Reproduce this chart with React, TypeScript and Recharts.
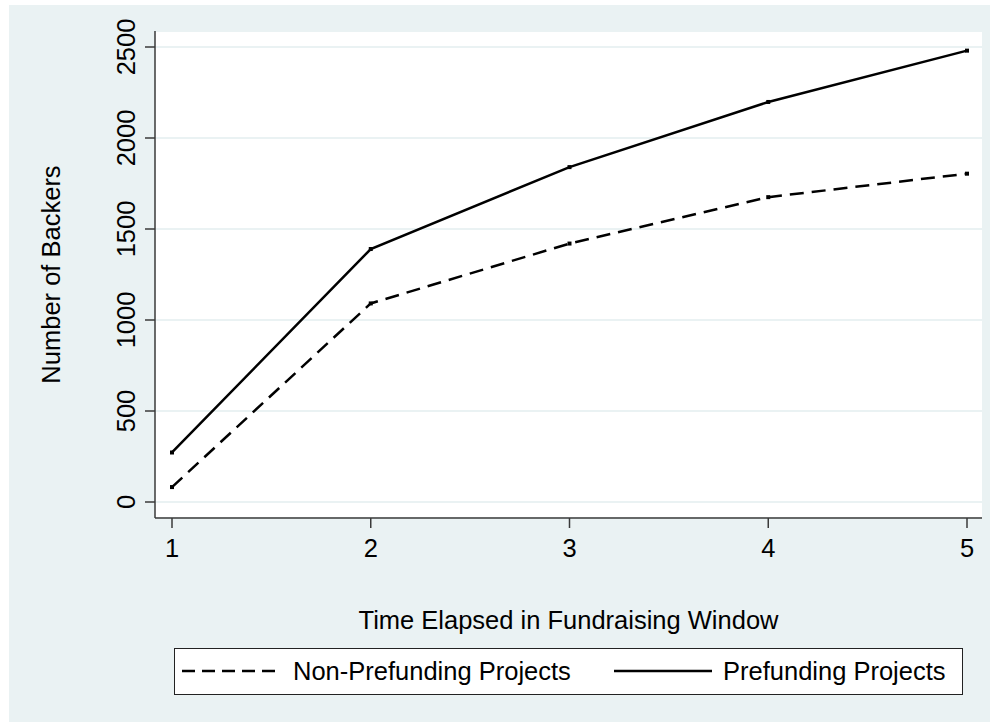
import React from 'react'
import {
  LineChart,
  Line,
  XAxis,
  YAxis,
  CartesianGrid,
  Label,
} from 'recharts'

// values
const periods = [1, 2, 3, 4, 5]
const prefunding = [272, 1390, 1840, 2198, 2480]
const nonPrefunding = [82, 1091, 1420, 1675, 1804]
const yTicks = [0, 500, 1000, 1500, 2000, 2500]

const data = periods.map((t, i) => ({
  t,
  pre: prefunding[i],
  nonPre: nonPrefunding[i],
}))

const FONT = 'Liberation Sans, Arial, sans-serif'
const FS = 25.5
const BG = '#EAF2F3'
const AXIS = '#3a3a3a'

const SquareDot = ({ cx, cy }: any) => {
  if (cx == null || cy == null) return null
  return <rect x={cx - 2} y={cy - 2} width={4} height={4} fill="#000" />
}

const VerticalTick = ({ x, y, payload }: any) => (
  <text
    transform={`translate(${x},${y}) rotate(-90)`}
    textAnchor="middle"
    fontSize={FS}
    fontFamily={FONT}
    fill="#000"
  >
    {payload.value}
  </text>
)

const LegendBox = () => (
  <div
    style={{
      position: 'absolute',
      left: 174,
      top: 648,
      width: 789,
      height: 47,
      boxSizing: 'border-box',
      border: '1px solid #222',
      background: '#fff',
    }}
  >
    <svg width={789} height={47} style={{ position: 'absolute', left: -1, top: -1 }}>
      <line x1={8} x2={108} y1={23} y2={23} stroke="#000" strokeWidth={2.5} strokeDasharray="13 7" />
      <line x1={440} x2={538} y1={23} y2={23} stroke="#000" strokeWidth={2.5} />
      <text x={119} y={32} fontSize={FS} fontFamily={FONT} fill="#000">Non-Prefunding Projects</text>
      <text x={549} y={32} fontSize={FS} fontFamily={FONT} fill="#000">Prefunding Projects</text>
    </svg>
  </div>
)

export default function App() {
  return (
    <div style={{ position: 'absolute', left: 0, top: 0, width: 999, height: 727, background: '#fff' }}>
      <div style={{ position: 'absolute', left: 9, top: 5, width: 981, height: 717, background: BG }} />
      <div style={{ position: 'absolute', left: 0, top: 0 }}>
        <LineChart
          width={999}
          height={727}
          data={data}
          margin={{ top: 31, right: 17, left: 20, bottom: 79 }}
        >
          <CartesianGrid vertical={false} fill="#fff" stroke={BG} strokeWidth={2} />
          <XAxis
            dataKey="t"
            type="number"
            domain={[1, 5]}
            ticks={periods}
            padding={{ left: 17, right: 15 }}
            height={130}
            tickSize={10}
            tickMargin={11}
            tick={{ fontSize: FS, fontFamily: FONT, fill: '#000' }}
            axisLine={{ stroke: AXIS, strokeWidth: 1.5 }}
            tickLine={{ stroke: AXIS, strokeWidth: 1.5 }}
          >
            <Label
              value="Time Elapsed in Fundraising Window"
              position="insideBottom"
              offset={19}
              style={{ fontSize: FS, fontFamily: FONT, fill: '#000' }}
            />
          </XAxis>
          <YAxis
            type="number"
            domain={[0, 2500]}
            ticks={yTicks}
            padding={{ top: 16, bottom: 16 }}
            width={135}
            tickSize={10}
            tickMargin={10}
            tick={<VerticalTick />}
            axisLine={{ stroke: AXIS, strokeWidth: 1.5 }}
            tickLine={{ stroke: AXIS, strokeWidth: 1.5 }}
          >
            <Label
              value="Number of Backers"
              angle={-90}
              position="insideLeft"
              offset={31}
              style={{ fontSize: FS, fontFamily: FONT, fill: '#000', textAnchor: 'middle' }}
            />
          </YAxis>
          <Line
            type="linear"
            dataKey="nonPre"
            stroke="#000"
            strokeWidth={2.5}
            strokeDasharray="14 8"
            dot={<SquareDot />}
            activeDot={false}
            isAnimationActive={false}
          />
          <Line
            type="linear"
            dataKey="pre"
            stroke="#000"
            strokeWidth={2.5}
            dot={<SquareDot />}
            activeDot={false}
            isAnimationActive={false}
          />
        </LineChart>
      </div>
      <LegendBox />
    </div>
  )
}
